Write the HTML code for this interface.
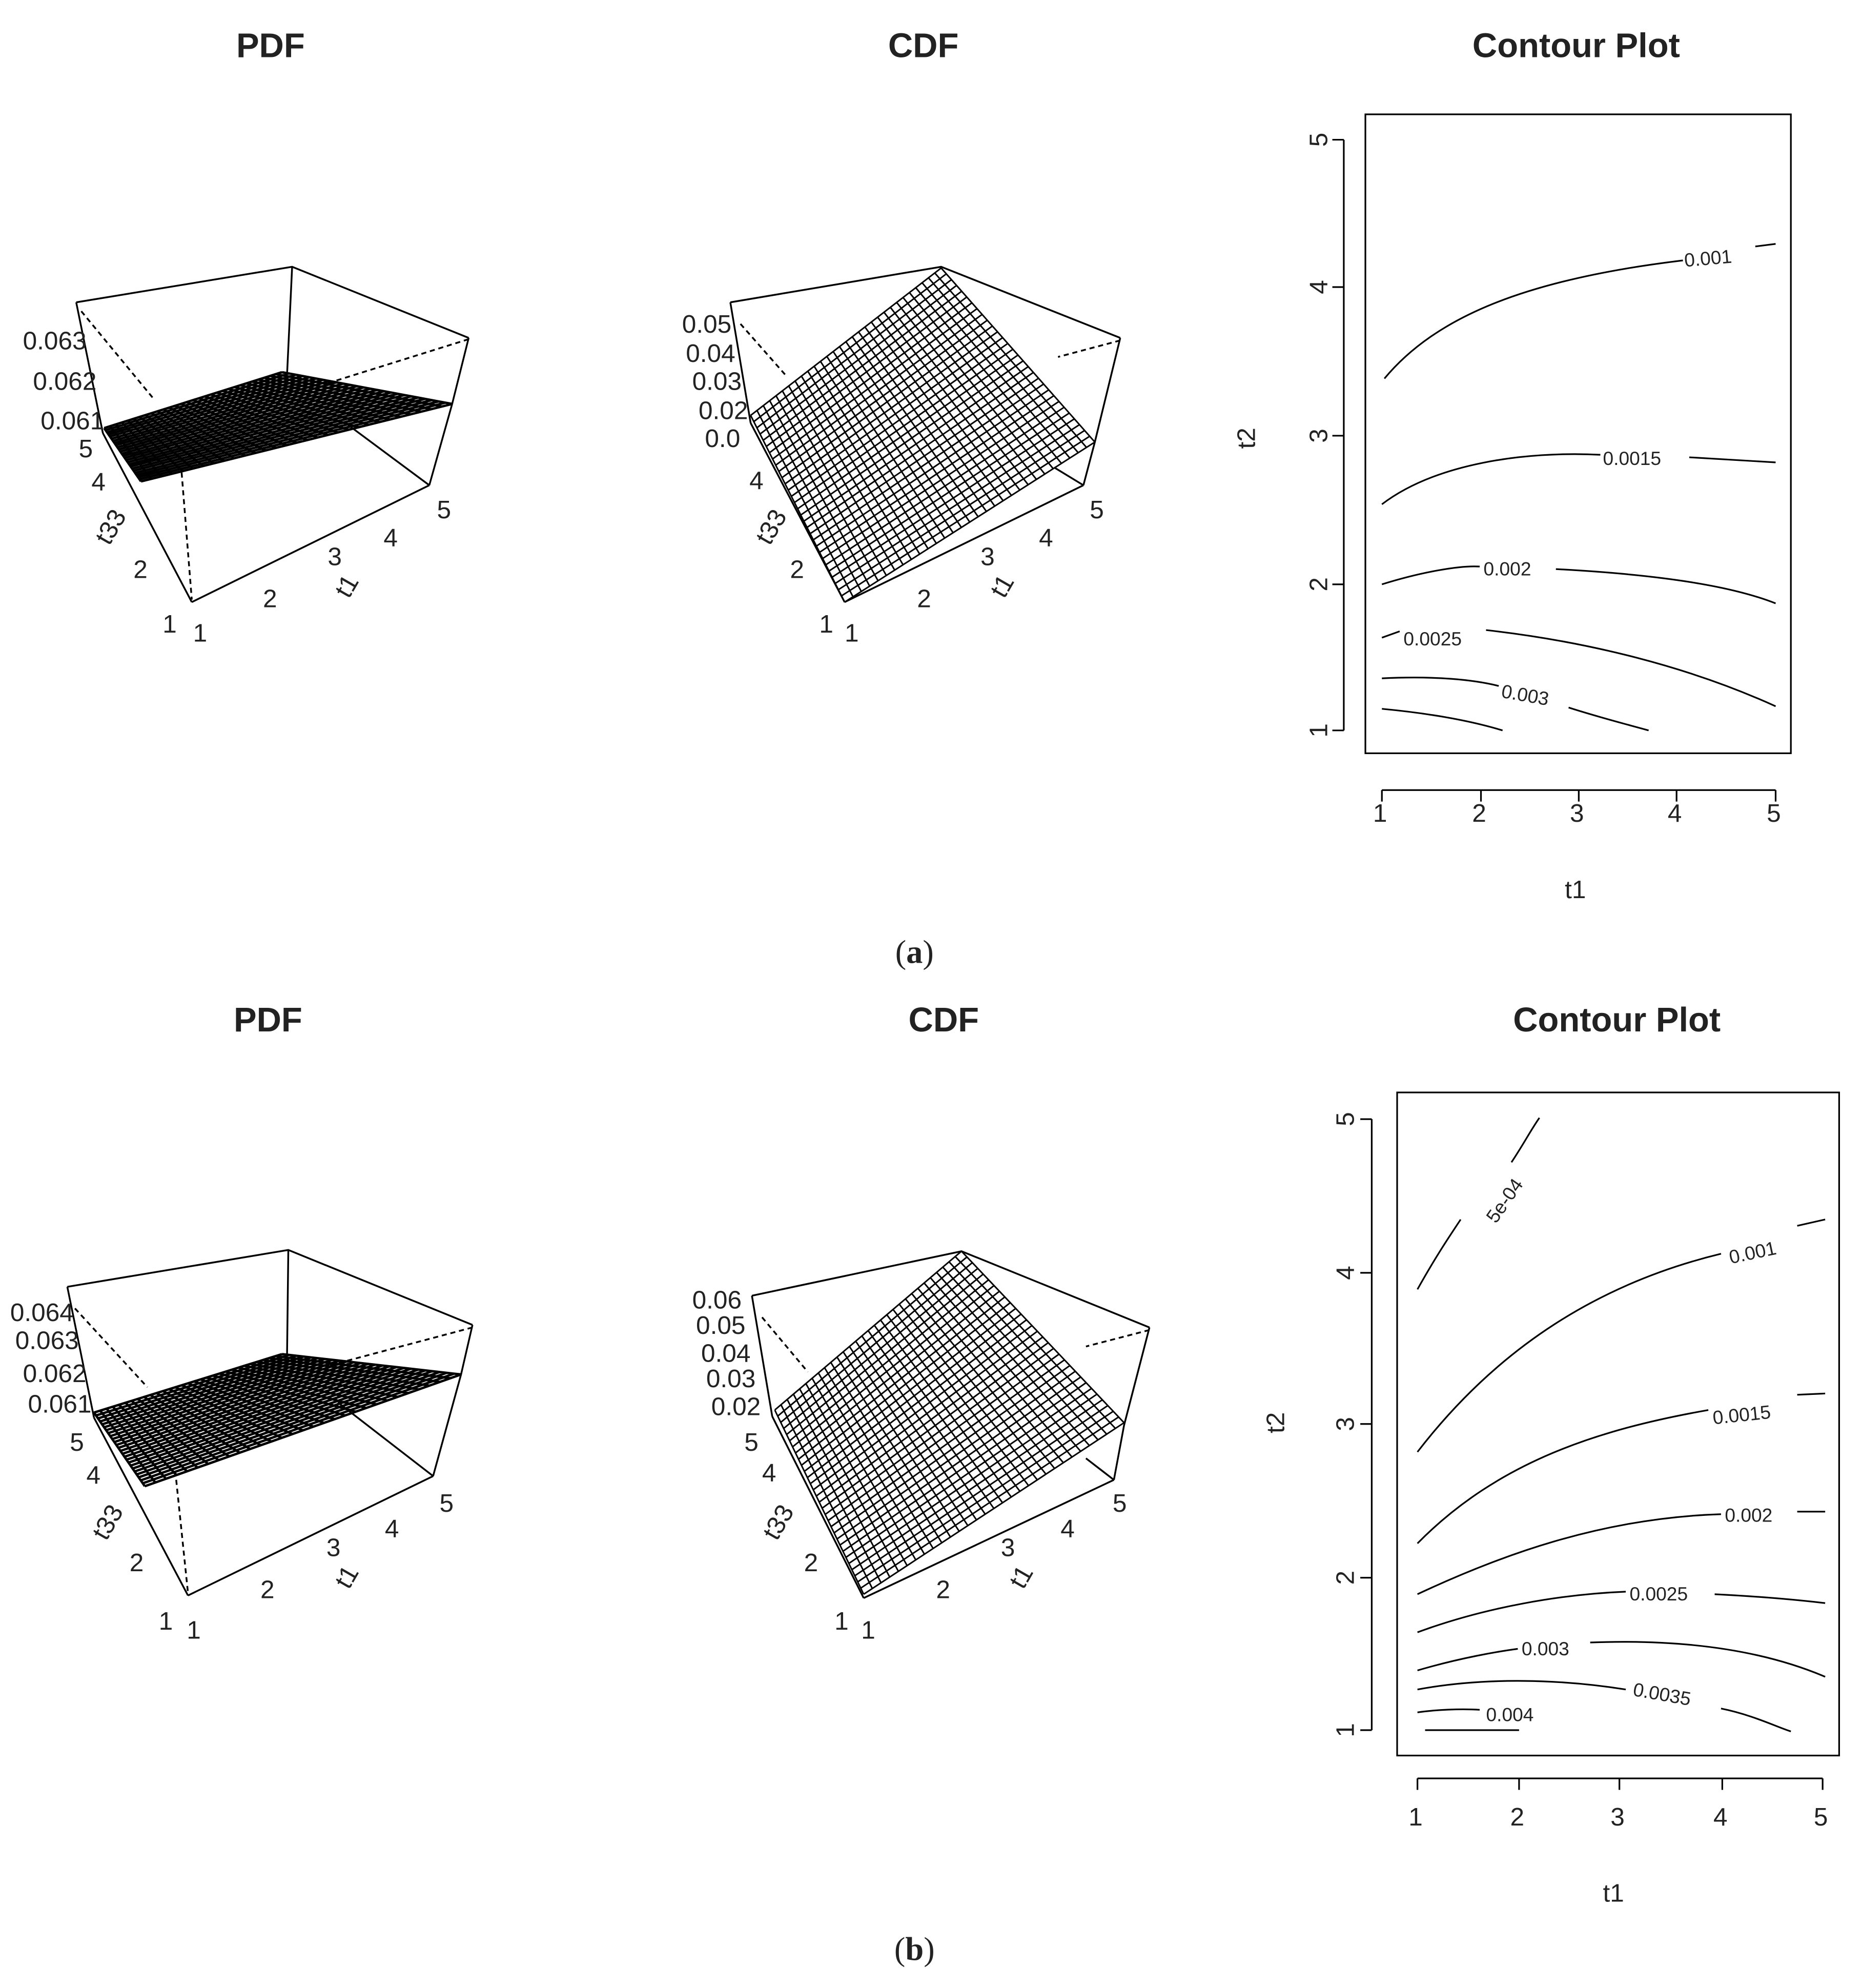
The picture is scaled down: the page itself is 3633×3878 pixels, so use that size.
<!DOCTYPE html>
<html><head><meta charset="utf-8"><style>
html,body{margin:0;padding:0;background:#fff;}
svg{display:block;}
text{font-family:"Liberation Sans",sans-serif;fill:#222;}
.t{font-size:27px;font-weight:bold;text-anchor:middle;}
.k{font-size:20px;}
.c{font-size:15px;}
.cap{font-family:"Liberation Serif",serif;font-size:26px;text-anchor:middle;}
</style></head><body>
<svg id="s" width="3633" height="3878" viewBox="0 0 1466 1565" preserveAspectRatio="none" xmlns="http://www.w3.org/2000/svg">
<g fill="none" stroke="#000" stroke-width="1.4">
<path d="M60,238 L230,210 L369,266 M230,210 L226,295 M60,238 L81,341 M369,266 L356,318 L338,382 M151,474 L338,382 M81,341 L151,474 M272,333 L338,382"/>
<path stroke-dasharray="4,3" d="M64,245 L121,314 M369,267 L257,302 M143,372 L151,472"/>
<path d="M575,238 L741,210 L882,266 M575,238 L591,333 M882,266 L862,348 L853,382 M665,474 L853,382 M591,333 L665,474 M830,368 L853,382"/>
<path stroke-dasharray="4,3" d="M583,255 L620,297 M882,268 L833,281"/>
<path d="M53,1013 L227,984 L372,1043 M227,984 L226,1067 M53,1013 L74,1116 M372,1043 L363,1082 L341,1162 M148,1256 L341,1162 M74,1116 L148,1256 M266,1104 L341,1162"/>
<path stroke-dasharray="4,3" d="M59,1030 L116,1092 M372,1045 L259,1075 M138,1158 L148,1254"/>
<path d="M592,1020 L757,985 L905,1045 M592,1020 L608,1115 M905,1045 L885,1122 L877,1165 M680,1258 L877,1165 M855,1148 L877,1165 M608,1115 L680,1258"/>
<path stroke-dasharray="4,3" d="M600,1037 L636,1080 M905,1047 L855,1060"/>
</g>
<g id="mesh" fill="none" stroke="#000"></g>
<g class="k">
<text x="18" y="275">0.063</text><text x="26" y="307">0.062</text><text x="32" y="338">0.061</text>
<text x="62" y="360">5</text><text x="72" y="386">4</text><text x="75" y="425" transform="rotate(-60 85 418)">t33</text>
<text x="105" y="455">2</text><text x="128" y="498">1</text><text x="152" y="505">1</text><text x="207" y="478">2</text>
<text x="258" y="445">3</text><text x="262" y="470" transform="rotate(-60 270 460)">t1</text><text x="302" y="430">4</text><text x="344" y="408">5</text>
<text x="537" y="262">0.05</text><text x="540" y="285">0.04</text><text x="545" y="307">0.03</text><text x="550" y="330">0.02</text><text x="555" y="352">0.0</text>
<text x="590" y="385">4</text><text x="595" y="425" transform="rotate(-60 605 418)">t33</text><text x="622" y="455">2</text>
<text x="645" y="498">1</text><text x="665" y="505">1</text><text x="722" y="478">2</text><text x="772" y="445">3</text>
<text x="778" y="470" transform="rotate(-60 786 460)">t1</text><text x="818" y="430">4</text><text x="858" y="408">5</text>
<text x="8" y="1040">0.064</text><text x="12" y="1062">0.063</text><text x="18" y="1088">0.062</text><text x="22" y="1112">0.061</text>
<text x="55" y="1142">5</text><text x="68" y="1168">4</text><text x="70" y="1210" transform="rotate(-60 80 1200)">t33</text>
<text x="102" y="1237">2</text><text x="125" y="1283">1</text><text x="147" y="1290">1</text><text x="205" y="1258">2</text>
<text x="257" y="1225">3</text><text x="262" y="1250" transform="rotate(-60 270 1240)">t1</text><text x="303" y="1210">4</text><text x="346" y="1190">5</text>
<text x="545" y="1030">0.06</text><text x="548" y="1050">0.05</text><text x="552" y="1072">0.04</text><text x="556" y="1092">0.03</text><text x="560" y="1114">0.02</text>
<text x="586" y="1142">5</text><text x="600" y="1166">4</text><text x="598" y="1210" transform="rotate(-60 608 1200)">t33</text>
<text x="633" y="1237">2</text><text x="657" y="1283">1</text><text x="678" y="1290">1</text><text x="737" y="1258">2</text>
<text x="788" y="1225">3</text><text x="793" y="1250" transform="rotate(-60 801 1240)">t1</text><text x="835" y="1210">4</text><text x="876" y="1190">5</text>
</g>
<text class="t" x="213" y="45">PDF</text><text class="t" x="727" y="45">CDF</text><text class="t" x="1241" y="45">Contour Plot</text>
<text class="t" x="211" y="812">PDF</text><text class="t" x="743" y="812">CDF</text><text class="t" x="1273" y="812">Contour Plot</text>
<text class="cap" x="720" y="758">(<tspan font-weight="bold">a</tspan>)</text>
<text class="cap" x="720" y="1543">(<tspan font-weight="bold">b</tspan>)</text>
<g fill="none" stroke="#000" stroke-width="1.3">
<rect x="1075" y="90" width="335" height="503"/>
<path d="M1088,622 L1398,622 M1088,622 v9 M1166,622 v9 M1243,622 v9 M1320,622 v9 M1398,622 v9"/>
<path d="M1058,575 L1058,110 M1058,575 h-9 M1058,460 h-9 M1058,343 h-9 M1058,226 h-9 M1058,110 h-9"/>
<path d="M1090,298 C1130,250 1200,220 1325,205 M1382,194 L1398,192"/>
<path d="M1088,397 C1130,365 1200,355 1260,358 M1330,360 L1398,364"/>
<path d="M1088,460 C1120,450 1150,445 1165,446 M1225,448 C1300,452 1360,460 1398,475"/>
<path d="M1088,502 L1102,497 M1170,496 C1250,505 1330,525 1398,556"/>
<path d="M1088,534 C1130,532 1160,535 1180,540 M1235,557 C1260,565 1280,570 1298,575"/>
<path d="M1088,558 C1130,562 1160,568 1183,575"/>
</g>
<g class="k">
<text x="1081" y="647">1</text><text x="1159" y="647">2</text><text x="1236" y="647">3</text><text x="1313" y="647">4</text><text x="1391" y="647">5</text>
<text x="1232" y="707">t1</text>
<text transform="translate(1045,575) rotate(-90)" text-anchor="middle">1</text>
<text transform="translate(1045,460) rotate(-90)" text-anchor="middle">2</text>
<text transform="translate(1045,343) rotate(-90)" text-anchor="middle">3</text>
<text transform="translate(1045,226) rotate(-90)" text-anchor="middle">4</text>
<text transform="translate(1045,110) rotate(-90)" text-anchor="middle">5</text>
<text transform="translate(988,345) rotate(-90)" text-anchor="middle">t2</text>
</g>
<g class="c">
<text x="1326" y="208" transform="rotate(-5 1350 203)">0.001</text>
<text x="1262" y="366">0.0015</text><text x="1168" y="453">0.002</text><text x="1105" y="508">0.0025</text>
<text x="1182" y="553" transform="rotate(10 1205 548)">0.003</text>
</g>
<g fill="none" stroke="#000" stroke-width="1.3">
<rect x="1100" y="860" width="348" height="522"/>
<path d="M1116,1400 L1435,1400 M1116,1400 v9 M1196,1400 v9 M1275,1400 v9 M1356,1400 v9 M1435,1400 v9"/>
<path d="M1080,1362 L1080,881 M1080,1362 h-9 M1080,1242 h-9 M1080,1121 h-9 M1080,1002 h-9 M1080,881 h-9"/>
<path d="M1116,1015 C1130,990 1140,975 1150,960 M1190,915 C1200,900 1205,890 1212,880"/>
<path d="M1116,1143 C1180,1060 1260,1010 1355,987 M1415,965 L1437,960"/>
<path d="M1116,1215 C1180,1150 1260,1125 1345,1110 M1415,1098 L1437,1097"/>
<path d="M1116,1255 C1180,1225 1260,1195 1355,1192 M1415,1190 L1437,1190"/>
<path d="M1116,1285 C1170,1265 1230,1255 1280,1253 M1350,1255 C1390,1257 1420,1260 1437,1262"/>
<path d="M1116,1315 C1150,1305 1180,1300 1195,1298 M1252,1293 C1330,1290 1390,1300 1437,1320"/>
<path d="M1116,1330 C1170,1320 1230,1322 1280,1330 M1355,1345 C1380,1350 1400,1360 1410,1363"/>
<path d="M1116,1348 C1130,1346 1150,1345 1165,1346 M1122,1362 L1196,1362"/>
</g>
<g class="k">
<text x="1109" y="1437">1</text><text x="1189" y="1437">2</text><text x="1268" y="1437">3</text><text x="1349" y="1437">4</text><text x="1428" y="1437">5</text>
<text x="1262" y="1497">t1</text>
<text transform="translate(1066,1362) rotate(-90)" text-anchor="middle">1</text>
<text transform="translate(1066,1242) rotate(-90)" text-anchor="middle">2</text>
<text transform="translate(1066,1121) rotate(-90)" text-anchor="middle">3</text>
<text transform="translate(1066,1002) rotate(-90)" text-anchor="middle">4</text>
<text transform="translate(1066,881) rotate(-90)" text-anchor="middle">5</text>
<text transform="translate(1011,1120) rotate(-90)" text-anchor="middle">t2</text>
</g>
<g class="c">
<text x="1155" y="960" transform="rotate(-55 1170 940)">5e-04</text>
<text x="1360" y="990" transform="rotate(-12 1385 980)">0.001</text>
<text x="1348" y="1118" transform="rotate(-6 1380 1110)">0.0015</text>
<text x="1358" y="1198">0.002</text><text x="1283" y="1260">0.0025</text>
<text x="1198" y="1303">0.003</text>
<text x="1285" y="1340" transform="rotate(10 1315 1338)">0.0035</text>
<text x="1170" y="1355">0.004</text>
</g>
</svg>
<script>
(function(){
var g=document.getElementById('mesh'),ns='http://www.w3.org/2000/svg';
function L(a,b,t){return [a[0]+(b[0]-a[0])*t,a[1]+(b[1]-a[1])*t];}
function mesh(p00,p10,p01,p11,n,m,w){
 function P(u,v){var a=L(p00,p10,u),b=L(p01,p11,u);return L(a,b,v);}
 var d='';
 for(var i=0;i<=n;i++){var u=i/n;d+='M';for(var j=0;j<=10;j++){var q=P(u,j/10);d+=(j?' L':'')+q[0].toFixed(1)+','+q[1].toFixed(1);}}
 for(var i=0;i<=m;i++){var v=i/m;d+='M';for(var j=0;j<=10;j++){var q=P(j/10,v);d+=(j?' L':'')+q[0].toFixed(1)+','+q[1].toFixed(1);}}
 var e=document.createElementNS(ns,'path');e.setAttribute('d',d);e.setAttribute('stroke-width',w);g.appendChild(e);
}
mesh([82,337],[111,379],[222,293],[356,318],25,30,1.9);
mesh([74,1112],[114,1170],[222,1066],[363,1082],25,30,1.9);
mesh([591,327],[665,474],[741,211],[862,348],30,30,1.2);
mesh([610,1110],[680,1255],[757,985],[885,1120],30,30,1.2);
})();
</script>
</body></html>
